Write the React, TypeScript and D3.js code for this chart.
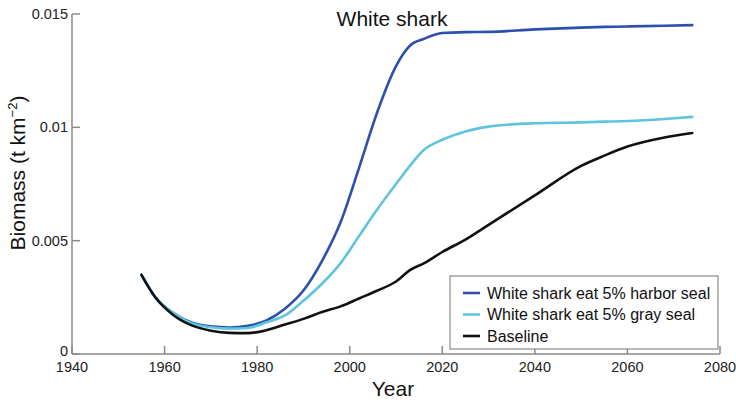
import React from "react";
import * as d3 from "d3";

const years = [1955, 1958, 1962, 1966, 1970, 1974, 1978, 1982, 1986, 1990, 1994, 1998, 2002, 2006, 2010, 2013, 2016, 2020, 2025, 2030, 2040, 2050, 2055, 2060, 2068, 2074];

const harborSeal = [0.00349, 0.0025, 0.0018, 0.00138, 0.00122, 0.00117, 0.00124, 0.00148, 0.002, 0.0028, 0.0041, 0.0058, 0.0082, 0.0107, 0.0127, 0.0136, 0.0139, 0.01416, 0.0142, 0.01421, 0.01432, 0.0144, 0.01443, 0.01445, 0.01448, 0.01451];
const graySeal = [0.00349, 0.0025, 0.0018, 0.00135, 0.00118, 0.00112, 0.00115, 0.0014, 0.0017, 0.00235, 0.0031, 0.004, 0.0052, 0.0064, 0.0075, 0.0083, 0.009, 0.00945, 0.00982, 0.01003, 0.01018, 0.01022, 0.01025, 0.01028, 0.01037, 0.01046];
const baseline = [0.00349, 0.0025, 0.0017, 0.00125, 0.00103, 0.00093, 0.00092, 0.00105, 0.0013, 0.00155, 0.00185, 0.0021, 0.00245, 0.0028, 0.0032, 0.0037, 0.004, 0.0045, 0.00505, 0.0057, 0.007, 0.0083, 0.00875, 0.00915, 0.00955, 0.00975];

const xTicks = [1940, 1960, 1980, 2000, 2020, 2040, 2060, 2080];
const yTicks = [0, 0.005, 0.01, 0.015];
const yTickLabels = ["0", "0.005", "0.01", "0.015"];

const seriesNames = ["White shark eat 5% harbor seal", "White shark eat 5% gray seal", "Baseline"];
const seriesColors = ["#2d4fae", "#5ec5de", "#111111"];
const seriesValues = [harborSeal, graySeal, baseline];

export default function App() {
  const x = d3.scaleLinear().domain([1940, 2080]).range([72, 720]);
  const y = d3.scaleLinear().domain([0, 0.015]).range([354, 14]);
  const line = d3
    .line<[number, number]>()
    .x((d) => x(d[0]))
    .y((d) => y(d[1]))
    .curve(d3.curveMonotoneX);

  const font = "'Liberation Sans', Arial, Helvetica, sans-serif";
  const axisColor = "#8a8a8a";

  return (
    <svg width={736} height={403} style={{ position: "absolute", left: 0, top: 0, fontFamily: font }}>
      <rect width={736} height={403} fill="#fff" />
      {/* axes */}
      <line x1={x(1940)} x2={x(2080)} y1={y(0)} y2={y(0)} stroke={axisColor} strokeWidth={1.5} />
      <line x1={x(1940)} x2={x(1940)} y1={y(0)} y2={y(0.015)} stroke={axisColor} strokeWidth={1.5} />
      {xTicks.map((t) => (
        <g key={t}>
          <line x1={x(t)} x2={x(t)} y1={y(0)} y2={y(0) - 8} stroke={axisColor} strokeWidth={1.5} />
          <text x={x(t)} y={372} textAnchor="middle" fontSize={14.5} fill="#222">
            {t}
          </text>
        </g>
      ))}
      {yTicks.map((t, i) => (
        <g key={t}>
          <line x1={x(1940)} x2={x(1940) + 8} y1={y(t)} y2={y(t)} stroke={axisColor} strokeWidth={1.5} />
          <text x={68} y={y(t) - (t === 0 ? 3 : 0)} dy="0.35em" textAnchor="end" fontSize={14.5} fill="#222">
            {yTickLabels[i]}
          </text>
        </g>
      ))}
      {/* series */}
      {seriesValues.map((vals, i) => (
        <path
          key={i}
          d={line(years.map((yr, j) => [yr, vals[j]] as [number, number])) || ""}
          fill="none"
          stroke={seriesColors[i]}
          strokeWidth={2.6}
          strokeLinejoin="round"
          strokeLinecap="round"
        />
      ))}
      {/* title */}
      <text x={392} y={26} textAnchor="middle" fontSize={21} fill="#111">
        White shark
      </text>
      {/* axis labels */}
      <text x={393} y={396} textAnchor="middle" fontSize={21} fill="#111">
        Year
      </text>
      <text transform="translate(25,173) rotate(-90)" textAnchor="middle" fontSize={21} fill="#111">
        Biomass (t km
        <tspan dy={-8} fontSize={13}>−2</tspan>
        <tspan dy={8}>)</tspan>
      </text>
      {/* legend */}
      <rect x={450} y={276} width={268} height={73} fill="#fff" stroke={axisColor} strokeWidth={1.2} />
      {seriesNames.map((name, i) => (
        <g key={name}>
          <line x1={463} x2={480} y1={293 + i * 21.5} y2={293 + i * 21.5} stroke={seriesColors[i]} strokeWidth={2.6} />
          <text x={487} y={293 + i * 21.5} dy="0.35em" fontSize={16} fill="#111">
            {name}
          </text>
        </g>
      ))}
    </svg>
  );
}
